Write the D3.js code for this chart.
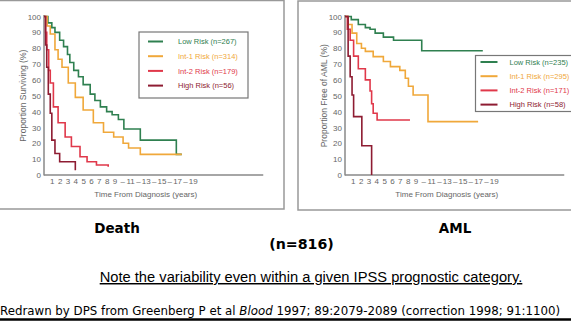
<!DOCTYPE html>
<html lang="en">
<head>
<meta charset="UTF-8">
<title>IPSS survival and AML evolution</title>
<script src="https://d3js.org/d3.v7.min.js"></script>
<style>
  body { margin: 0; background: #fff; }
  svg { display: block; }
  text { font-family: "Liberation Sans", Arial, sans-serif; }
</style>
</head>
<body>
<svg width="571" height="321"></svg>
<script>
// --- data (years, % of patients) ---
const riskGroups = ["Low Risk", "Int-1 Risk", "Int-2 Risk", "High Risk"];
const riskColors = ["#2f8050", "#f0a83a", "#e0384a", "#8e1c32"];

const deathN = [267, 314, 179, 56];
const deathLowT  = [0, 0.5, 1, 1.4, 2, 2.5, 3, 3.3, 3.8, 4.4, 5, 5.9, 6.5, 7.2, 8, 8.7, 9.5, 10.2, 12.3, 16.9, 17.6];
const deathLowV  = [100, 96, 93, 90, 85, 81, 76, 71, 66, 62, 57, 51, 47, 43, 40, 38, 35, 29, 22, 13, 13];
const deathInt1T = [0, 0.4, 0.8, 1.4, 1.8, 2.3, 3.1, 4, 5, 6.3, 7.6, 8.9, 10.1, 10.8, 12.3, 17.6];
const deathInt1V = [100, 94, 89, 79, 73, 68, 58, 49, 41, 33, 27, 24, 20, 17, 13, 13];
const deathInt2T = [0, 0.2, 0.35, 0.6, 0.8, 1.2, 1.8, 2.7, 3.5, 4.6, 5.5, 6.7, 8.2];
const deathInt2V = [100, 90, 79, 66, 58, 43, 33, 24, 18, 11.5, 8.4, 6.3, 5.2];
const deathHighT = [0, 0.2, 0.35, 0.55, 0.8, 1.0, 1.4, 2.0, 4.0];
const deathHighV = [100, 82, 68, 51, 39, 22, 13.6, 8.4, 3];

const amlN = [235, 295, 171, 58];
const amlLowT  = [0, 0.8, 1.7, 2.6, 3.2, 3.85, 4.9, 6.2, 9.8, 17.6];
const amlLowV  = [100, 98, 95, 93, 92, 89.5, 87, 85, 78.4, 78.4];
const amlInt1T = [0, 0.4, 0.9, 1.5, 2.1, 2.6, 3.6, 4.9, 5.8, 7, 7.7, 8.1, 8.7, 10.6, 17];
const amlInt1V = [100, 95, 89.5, 83, 80, 78, 74.7, 71.6, 68.4, 66, 61, 56, 50.5, 33.7, 33.7];
const amlInt2T = [0, 0.3, 0.66, 1.1, 1.7, 2.6, 3.2, 3.4, 3.6, 4.1, 8.3];
const amlInt2V = [100, 92, 85, 75, 67, 60, 53, 45, 39, 34.7, 34.7];
const amlHighT = [0, 0.4, 0.66, 0.9, 1.1, 2.15, 3.4, 3.4];
const amlHighV = [100, 75, 62, 50.5, 36.8, 18.5, 0, 0];

const yTicks = [0, 10, 20, 30, 40, 50, 60, 70, 80, 90, 100];
const xTickYears = [1, 2, 3, 4, 5, 6, 7, 8, 9, 10, 11, 12, 13, 14, 15, 16, 17, 18, 19];
const xTickLabels = ["1", "2", "3", "4", "5", "6", "7", "8", "9", "\u2013", "11", "\u2013", "13", "\u2013", "15", "\u2013", "17", "\u2013", "19"];

function toSeries(ts, vs) {
    return ts.map((t, i) => ({ t: t, v: vs[i] }));
}

const svg = d3.select("svg");

// draws one Kaplan-Meier style panel
function drawPanel(opt) {
    const g = svg.append("g");

    // panel frame
    g.append("rect")
        .attr("x", opt.frame[0]).attr("y", opt.frame[1])
        .attr("width", opt.frame[2]).attr("height", opt.frame[3])
        .attr("fill", "none").attr("stroke", "#999").attr("stroke-width", 1.5);

    const x = d3.scaleLinear().domain([0, 28]).range([opt.x0, opt.x0 + 28 * 7.83]);
    const y = d3.scaleLinear().domain([0, 100]).range([175, 16.5]);

    // axes (no tick marks, just labels)
    const yAxis = d3.axisLeft(y).tickValues(yTicks).tickSize(0).tickPadding(3);
    const ya = g.append("g").attr("transform", `translate(${opt.x0},0)`).call(yAxis);
    ya.select(".domain").remove();
    ya.selectAll("text").attr("fill", "#666").style("font-size", "8px");

    const xAxis = d3.axisBottom(x).tickValues(xTickYears)
        .tickFormat((d, i) => xTickLabels[i]).tickSize(0).tickPadding(3);
    const xa = g.append("g").attr("transform", "translate(0,175)").call(xAxis);
    xa.select(".domain").remove();
    xa.selectAll("text").attr("fill", "#666").style("font-size", "8px");

    g.append("line")
        .attr("x1", opt.x0).attr("x2", opt.x0).attr("y1", 15).attr("y2", 175.5)
        .attr("stroke", "#888").attr("stroke-width", 1.5);
    g.append("line")
        .attr("x1", opt.x0).attr("x2", x(28)).attr("y1", 175).attr("y2", 175)
        .attr("stroke", "#888").attr("stroke-width", 1.5);

    g.append("text")
        .attr("transform", `translate(${opt.x0 - 18},${y(50)}) rotate(-90)`)
        .attr("text-anchor", "middle")
        .attr("fill", "#666").style("font-size", "8.5px")
        .text(opt.yLabel);
    g.append("text")
        .attr("x", x(13)).attr("y", 197)
        .attr("text-anchor", "middle")
        .attr("fill", "#666").style("font-size", "8px")
        .text("Time From Diagnosis (years)");

    // survival curves
    const line = d3.line().x(d => x(d.t)).y(d => y(d.v)).curve(d3.curveStepAfter);
    opt.series.forEach((s, i) => {
        g.append("path")
            .datum(s)
            .attr("d", line)
            .attr("fill", "none")
            .attr("stroke", riskColors[i])
            .attr("stroke-width", 1.6);
    });

    // legend
    const lg = g.append("g").attr("transform", `translate(${opt.legend[0]},${opt.legend[1]})`);
    lg.append("rect")
        .attr("width", opt.legend[2]).attr("height", opt.legend[3])
        .attr("fill", "#fff").attr("stroke", "#777").attr("stroke-width", 1.2);
    riskGroups.forEach((name, i) => {
        const yy = opt.legendRow0 + i * opt.legendStep;
        lg.append("line")
            .attr("x1", opt.legendLine[0]).attr("x2", opt.legendLine[1])
            .attr("y1", yy).attr("y2", yy)
            .attr("stroke", riskColors[i]).attr("stroke-width", 2);
        lg.append("text")
            .attr("x", opt.legendText).attr("y", yy + 2.6)
            .attr("fill", riskColors[i]).style("font-size", "7.5px")
            .text(`${name} (n=${opt.n[i]})`);
    });
}

drawPanel({
    frame: [-2, 0.5, 286, 208.5],
    x0: 44,
    yLabel: "Proportion Surviving (%)",
    series: [toSeries(deathLowT, deathLowV), toSeries(deathInt1T, deathInt1V),
             toSeries(deathInt2T, deathInt2V), toSeries(deathHighT, deathHighV)],
    n: deathN,
    legend: [139, 32, 109, 66],
    legendRow0: 9.5, legendStep: 14.7,
    legendLine: [9, 24], legendText: 39
});

drawPanel({
    frame: [298, 1, 290, 209],
    x0: 345,
    yLabel: "Proportion Free of AML (%)",
    series: [toSeries(amlLowT, amlLowV), toSeries(amlInt1T, amlInt1V),
             toSeries(amlInt2T, amlInt2V), toSeries(amlHighT, amlHighV)],
    n: amlN,
    legend: [475.5, 55.5, 110, 56],
    legendRow0: 6.5, legendStep: 14.2,
    legendLine: [5, 22], legendText: 34
});

// captions under the panels
const boldFont = "DejaVu Sans, Verdana, sans-serif";
svg.append("text").attr("x", 117).attr("y", 233).attr("text-anchor", "middle")
    .style("font-family", boldFont)
    .style("font-size", "13.5px").style("font-weight", "bold").text("Death");
svg.append("text").attr("x", 455).attr("y", 233).attr("text-anchor", "middle")
    .style("font-family", boldFont)
    .style("font-size", "13.5px").style("font-weight", "bold").text("AML");
svg.append("text").attr("x", 301.5).attr("y", 249).attr("text-anchor", "middle")
    .style("font-family", boldFont)
    .style("font-size", "14.2px").style("font-weight", "bold").text("(n=816)");

svg.append("text").attr("x", 311).attr("y", 282).attr("text-anchor", "middle")
    .style("font-size", "14.7px").style("text-decoration", "underline")
    .text("Note the variability even within a given IPSS prognostic category.");

const cite = svg.append("text").attr("x", 0).attr("y", 315)
    .style("font-family", "DejaVu Sans, Verdana, sans-serif").style("font-size", "11.8px");
cite.append("tspan").text("Redrawn by DPS from Greenberg P et al ");
cite.append("tspan").style("font-style", "italic").text("Blood");
cite.append("tspan").text(" 1997; 89:2079-2089 (correction 1998; 91:1100)");

svg.append("line").attr("x1", 0).attr("x2", 571).attr("y1", 319.5).attr("y2", 319.5)
    .attr("stroke", "#000").attr("stroke-width", 2.5);
</script>
</body>
</html>
